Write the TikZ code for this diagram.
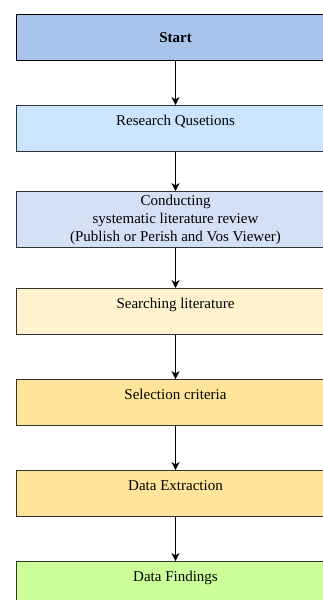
\documentclass[tikz,border=0pt]{standalone}
\usepackage{fontspec}
\setmainfont{Liberation Serif}
\usetikzlibrary{arrows.meta}
\definecolor{cStart}{HTML}{A9C4EB}
\definecolor{cRQ}{HTML}{CCE5FF}
\definecolor{cSLR}{HTML}{D4E1F5}
\definecolor{cSearch}{HTML}{FFF2CC}
\definecolor{cSel}{HTML}{FFE599}
\definecolor{cFind}{HTML}{CCFF99}
\definecolor{cBorder}{HTML}{333333}
\tikzset{
  stepbox/.style={draw=cBorder, line width=1.1pt, rectangle, inner sep=0pt,
    minimum width=318pt, minimum height=46pt, anchor=north,
    font=\fontsize{15pt}{18pt}\selectfont, align=center},
  toptext/.style={text depth=17pt},
  flow/.style={line width=0.9pt, -{Stealth[length=8pt,width=8pt,inset=2.5pt]}}
}
\begin{document}
\begin{tikzpicture}[x=1pt,y=-1pt]
\useasboundingbox (0,0) rectangle (323,600);
\clip (0,0) rectangle (323,600);
\fill[white] (0,0) rectangle (323,600);
\node[stepbox, fill=cStart, draw=black] (start) at (175.5,14) {\textbf{Start}};
\node[stepbox, toptext, fill=cRQ] (rq) at (175.5,105) {Research Qusetions};
\node[stepbox, fill=cSLR, minimum height=56pt] (slr) at (175.5,191) {Conducting\\systematic literature review\\(Publish or Perish and Vos Viewer)};
\node[stepbox, toptext, fill=cSearch] (search) at (175.5,288) {Searching literature};
\node[stepbox, toptext, fill=cSel] (sel) at (175.5,379) {Selection criteria};
\node[stepbox, toptext, fill=cSel] (ext) at (175.5,470) {Data Extraction};
\node[stepbox, toptext, fill=cFind] (find) at (175.5,561) {Data Findings};
\draw[flow] (start) -- (rq);
\draw[flow] (rq) -- (slr);
\draw[flow] (slr) -- (search);
\draw[flow] (search) -- (sel);
\draw[flow] (sel) -- (ext);
\draw[flow] (ext) -- (find);
\end{tikzpicture}
\end{document}
